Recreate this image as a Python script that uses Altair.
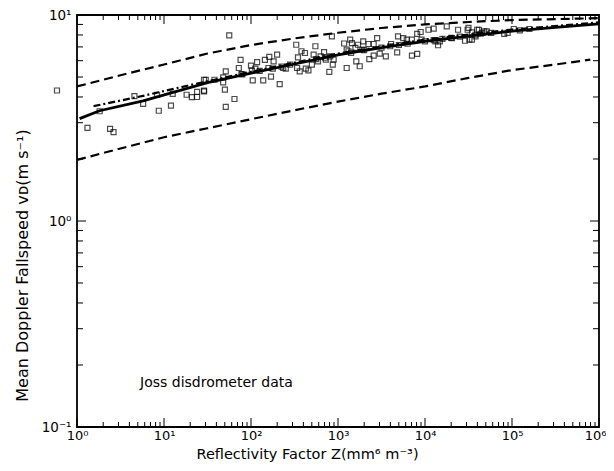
import altair as alt
import pandas as pd

# ---- scatter points: reflectivity in dBZ (Z = 10^(dBZ/10)) and fallspeed (m/s)
pt_dbz = [
    -2.3, 1.2, 3.8, 4.2, 2.6, 6.6, 7.6, 9.4, 10.8, 11.0, 12.6, 13.2, 13.8, 13.8, 14.6, 14.8, 9.2,
    17.5, 14.6, 14.6, 15.8, 16.8, 16.8, 17.0, 18.1, 17.1, 17.1, 18.6, 18.8, 18.9, 20.0, 20.1, 20.5,
    20.7, 20.2, 21.4, 21.6, 22.1, 22.3, 22.6, 23.0, 22.0, 22.5, 23.3, 23.7, 24.0, 25.2, 25.4, 25.8,
    26.2, 25.3, 25.6, 26.3, 26.6, 27.0, 27.2, 27.4, 27.7, 28.0, 28.4, 28.6, 29.0, 29.4, 29.3, 29.5,
    29.1, 30.7, 31.0, 31.2,
    31.4, 31.6, 31.0, 32.1, 32.5, 32.0, 32.3, 32.9, 32.8, 33.5, 33.6, 34.1, 34.1, 34.5, 34.8, 35.5,
    36.1, 36.8, 36.9, 37.5, 37.9, 38.5, 38.5, 39.1, 39.1, 39.5, 39.6, 40.4, 41.0, 41.2, 41.5, 41.7,
    42.5, 43.1, 43.8, 44.6, 45.0, 45.4, 45.8, 46.2, 46.6, 47.1,
    44.9, 45.4, 45.1, 46.0, 46.4, 46.8, 45.8, 47.6, 49.1, 49.5, 50.2, 50.9, 52.0,
    19.0, 21.0, 23.5, 24.5, 27.5, 28.5, 31.5, 33.0, 35.0, 36.0, 37.0, 38.0, 40.0, 41.0, 42.0, 43.0, 44.0,
]
pt_v = [
    4.30, 2.83, 2.80, 2.70, 3.41, 4.04, 3.70, 3.43, 3.63, 4.14, 4.10, 3.99, 4.23, 4.00, 4.29, 4.84, 4.10,
    7.97, 4.85, 4.26, 4.85, 4.98, 4.71, 4.34, 3.91, 3.58, 5.33, 5.53, 6.05, 5.17, 5.68, 5.37, 5.49,
    5.91, 4.82, 4.82, 6.05, 6.26, 5.02, 5.96, 6.42, 5.53, 5.49, 4.62, 5.53, 5.49, 7.17, 6.23, 6.67,
    6.54, 5.53, 5.33, 5.49, 5.39, 5.74, 6.42, 7.05, 5.96, 6.30, 6.61, 6.07, 5.29, 5.74, 7.88, 6.07,
    6.30, 7.27, 5.53, 6.67,
    7.59, 7.31, 6.79, 5.96, 5.64, 6.92, 7.17, 7.45, 6.79, 7.23, 6.11, 6.35, 7.23, 7.73, 6.49, 6.30,
    7.23, 6.59, 7.88, 7.73, 7.59, 7.59, 6.35, 6.47, 8.09, 8.27, 7.59, 8.48, 8.58, 7.45, 7.13, 7.45,
    8.81, 7.73, 8.48, 7.50, 8.65, 7.59, 8.02, 8.48, 8.18, 8.33,
    8.48, 8.24, 7.59, 8.48, 8.11, 8.33, 7.88, 8.18, 8.09, 8.18, 8.55, 8.43, 8.55,
    5.15, 5.35, 5.62, 5.74, 6.10, 6.20, 6.55, 6.75, 6.95, 7.05, 7.15, 7.25, 7.45, 7.55, 7.65, 7.75, 7.85,
]

# ---- curves
upper_dbz = [0, 5, 10, 15, 20, 25, 30, 35, 40, 45, 50, 55, 60]
upper_v = [4.5, 5.1, 5.75, 6.5, 7.15, 7.7, 8.2, 8.65, 9.0, 9.25, 9.45, 9.55, 9.65]
lower_dbz = [0, 5, 10, 15, 20, 25, 30, 35, 40, 45, 50, 55, 59]
lower_v = [1.98, 2.25, 2.55, 2.82, 3.12, 3.45, 3.8, 4.15, 4.5, 4.95, 5.4, 5.75, 6.07]
solid_dbz = [0.3, 2.6, 7.6, 15, 22.8, 30, 35, 40, 45, 50, 55, 60]
solid_v = [3.14, 3.43, 3.83, 4.7, 5.53, 6.4, 6.95, 7.45, 7.9, 8.35, 8.7, 9.05]
dashdot_dbz = [1.9, 7.6, 13.3, 20, 30, 40, 50, 60]
dashdot_v = [3.61, 4.05, 4.6, 5.3, 6.5, 7.6, 8.5, 9.2]

# ---- axis ticks / labels
x_major = [1, 10, 100, 1e3, 1e4, 1e5, 1e6]
x_minor = [m * 10 ** k for k in range(6) for m in range(2, 10)]
y_major = [0.1, 1, 10]
y_minor = [m * 10.0 ** k for k in (-1, 0) for m in range(2, 10)]
x_labels = ["10⁰", "10¹", "10²", "10³", "10⁴", "10⁵", "10⁶"]
y_labels = ["10⁻¹", "10⁰", "10¹"]

note_text = ["Joss disdrometer data"]
note_z = [5.3]
note_v = [0.164]

W, H = 522, 412
FONT = "DejaVu Sans"

def to_z(dbz):
    return [10 ** (d / 10.0) for d in dbz]

pts = pd.DataFrame({"Z": to_z(pt_dbz), "v": pt_v})
up = pd.DataFrame({"Z": to_z(upper_dbz), "v": upper_v})
lo = pd.DataFrame({"Z": to_z(lower_dbz), "v": lower_v})
so = pd.DataFrame({"Z": to_z(solid_dbz), "v": solid_v})
dd = pd.DataFrame({"Z": to_z(dashdot_dbz), "v": dashdot_v})
note = pd.DataFrame({"Z": note_z, "v": note_v, "label": note_text})

xs = alt.Scale(type="log", domain=[1, 1e6])
ys = alt.Scale(type="log", domain=[0.1, 10])

x_expr = "[" + ",".join("'%s'" % s for s in x_labels) + "][round(log(datum.value)/LN10)]"
y_expr = "datum.value < 0.5 ? '%s' : (datum.value < 5 ? '%s' : '%s')" % tuple(y_labels)

xaxis = alt.Axis(values=x_major, labelExpr=x_expr, ticks=False, domain=False, grid=False,
                 labelFont=FONT, labelFontSize=13, labelColor="black", labelPadding=2,
                 labelAlign=alt.condition("datum.value > 500000", alt.value("right"), alt.value("center")),
                 labelOffset=alt.condition("datum.value > 500000", alt.value(7), alt.value(0)),
                 labelOverlap=False, labelFlush=False,
                 title="Reflectivity Factor Z(mm⁶ m⁻³)", titleFont=FONT, titleFontSize=14.5,
                 titleFontWeight="normal", titleColor="black",
                 titleX=230, titleY=27, titleBaseline="middle", titleAlign="center")
yaxis = alt.Axis(values=y_major, labelExpr=y_expr, ticks=False, domain=False, grid=False,
                 labelFont=FONT, labelFontSize=13.5, labelColor="black", labelPadding=6,
                 labelOverlap=False, labelFlush=False,
                 title="Mean Doppler Fallspeed vᴅ(m s⁻¹)", titleFont=FONT, titleFontSize=16,
                 titleFontWeight="normal", titleColor="black",
                 titleX=-55, titleY=250, titleBaseline="middle", titleAlign="center", titleAngle=270)

X = lambda: alt.X("Z:Q", scale=xs, axis=xaxis)
Y = lambda: alt.Y("v:Q", scale=ys, axis=yaxis)

points = alt.Chart(pts).mark_square(filled=False, size=25, strokeWidth=1.2, color="black").encode(x=X(), y=Y())
upper = alt.Chart(up).mark_line(color="black", strokeWidth=2.2, strokeDash=[9, 5]).encode(x=X(), y=Y())
lower = alt.Chart(lo).mark_line(color="black", strokeWidth=2.2, strokeDash=[9, 5]).encode(x=X(), y=Y())
solid = alt.Chart(so).mark_line(color="black", strokeWidth=2.8).encode(x=X(), y=Y())
dashdot = alt.Chart(dd).mark_line(color="black", strokeWidth=2.2, strokeDash=[7, 3, 2, 3]).encode(x=X(), y=Y())
text = alt.Chart(note).mark_text(align="left", baseline="middle", font=FONT, fontSize=14, color="black").encode(
    x=X(), y=Y(), text="label:N")

def xticks(vals, length):
    df = pd.DataFrame({"Z": vals})
    b = alt.Chart(df).mark_rule(color="black", strokeWidth=1).encode(x=X(), y=alt.value(H), y2=alt.value(H - length))
    t = alt.Chart(df).mark_rule(color="black", strokeWidth=1).encode(x=X(), y=alt.value(0), y2=alt.value(length))
    return [b, t]

def yticks(vals, length):
    df = pd.DataFrame({"v": vals})
    l = alt.Chart(df).mark_rule(color="black", strokeWidth=1).encode(y=Y(), x=alt.value(0), x2=alt.value(length))
    r = alt.Chart(df).mark_rule(color="black", strokeWidth=1).encode(y=Y(), x=alt.value(W), x2=alt.value(W - length))
    return [l, r]

ticks = xticks(x_major, 9) + xticks(x_minor, 5) + yticks(y_major, 9) + yticks(y_minor, 6)

chart = alt.layer(points, upper, lower, solid, dashdot, text, *ticks).properties(
    width=W, height=H,
    autosize=alt.AutoSizeParams(type="none"),
    padding={"left": 69, "top": 7, "right": 7, "bottom": 36},
    background="white",
).configure_view(stroke="black", strokeWidth=1.8)

chart.save("out.html", embed_options={"renderer": "svg", "actions": False})
